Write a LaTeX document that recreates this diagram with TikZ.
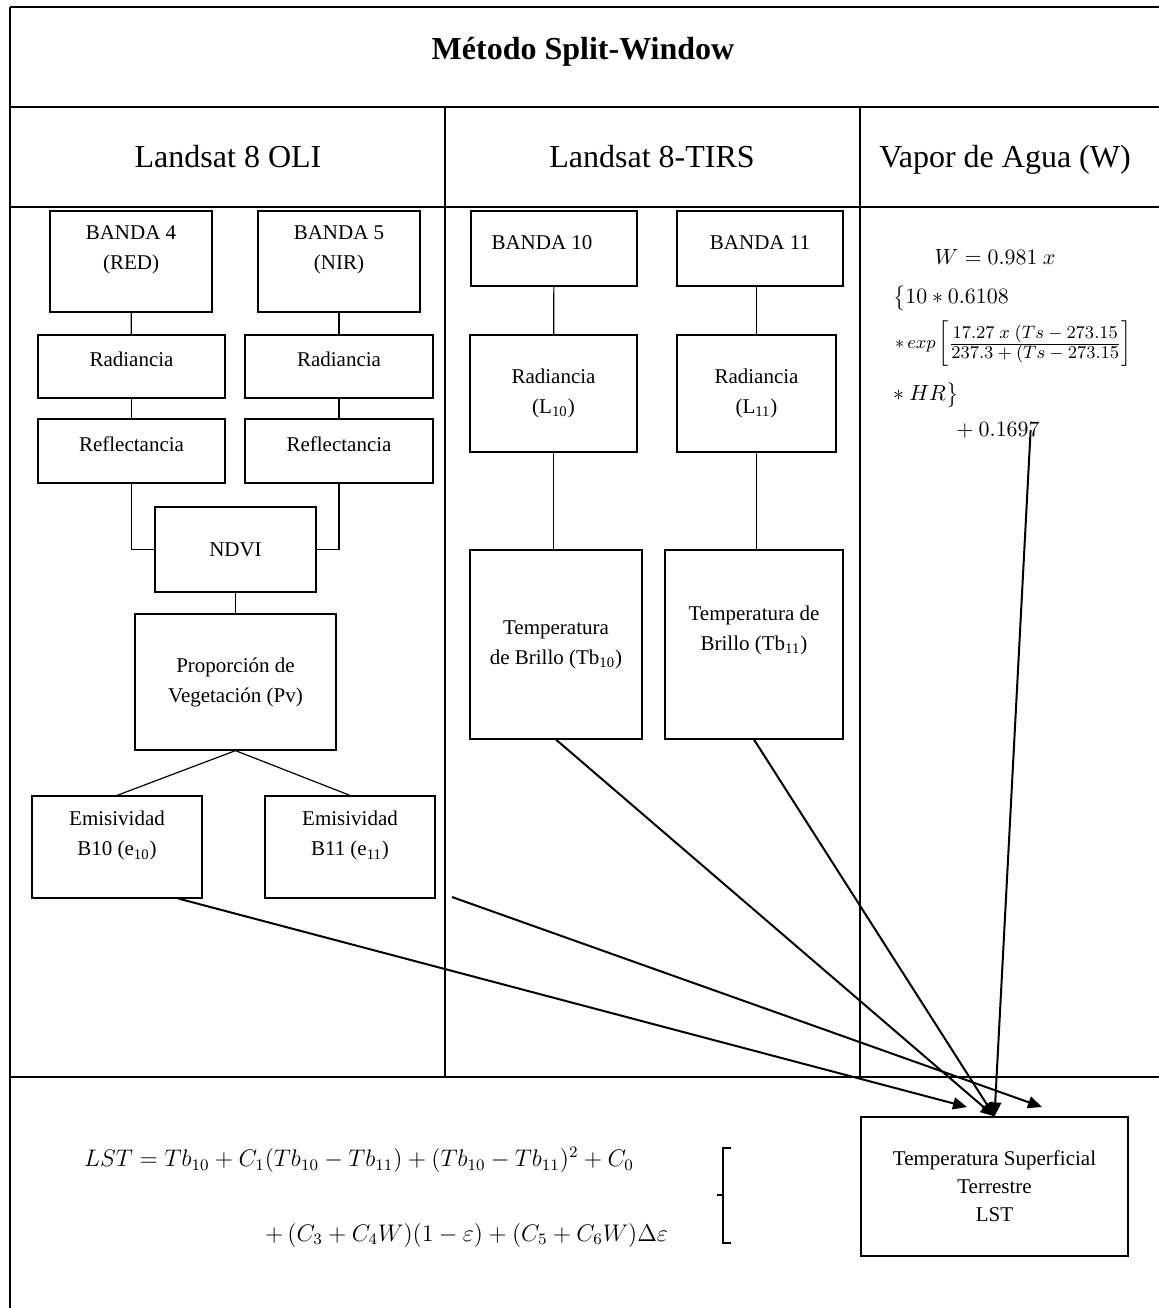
\documentclass[tikz,border=0pt]{standalone}
\usepackage{amsmath,amssymb}
\usepackage{fontspec}
\setmainfont{Liberation Serif}
\usepackage{tikz}
\usetikzlibrary{arrows.meta}
\newcommand{\boxfont}{\fontsize{10.5}{15}\selectfont}
\newcommand{\headfont}{\fontsize{16}{19}\selectfont}
\newcommand{\titlefont}{\fontsize{16}{19}\selectfont\bfseries}
\newcommand{\eqfont}{\fontsize{11.5}{14}\selectfont}
\tikzset{
  tabline/.style={line width=1pt},
  box/.style={draw, line width=0.6pt, inner sep=2pt, align=center, font=\boxfont},
  liftext/.style={text depth=#1},
  link/.style={line width=0.6pt},
  feed/.style={line width=1pt, -{Triangle[length=7pt,width=6pt]}},
}

\begin{document}
\begin{tikzpicture}[x=0.5pt, y=-0.5pt]
    \useasboundingbox (0,0) rectangle (1159,1308);
    % table
    \foreach \y in {7,107,207,1077} { \draw[tabline] (10,\y) -- (1159,\y); }
    \draw[tabline] (10,7) -- (10,1308);
    \draw[tabline] (445,107) -- (445,1077);
    \draw[tabline] (860,107) -- (860,1077);
    \node[font=\titlefont, anchor=base] (title) at (583,59) {Método Split-Window};
    \node[font=\headfont, anchor=base] (oli) at (228,167) {Landsat 8 OLI};
    \node[font=\headfont, anchor=base] (tirs) at (652,167) {Landsat 8-TIRS};
    \node[font=\headfont, anchor=base] (vapor) at (1005,167) {Vapor de Agua (W)};

    % Landsat 8 OLI
    \node[box, minimum width=81pt, minimum height=50.5pt] (b4) at (131,261.5) {BANDA 4\\(RED)\\[-6pt]\strut};
    \node[box, minimum width=81pt, minimum height=50.5pt] (b5) at (339,261.5) {BANDA 5\\(NIR)\\[-6pt]\strut};
    \node[box, liftext=7pt, minimum width=93.5pt, minimum height=31.5pt] (rad4) at (131.5,366.5) {Radiancia};
    \node[box, liftext=7pt, minimum width=94pt, minimum height=31.5pt] (rad5) at (339,366.5) {Radiancia};
    \node[box, liftext=7pt, minimum width=93.5pt, minimum height=32pt] (ref4) at (131.5,451) {Reflectancia};
    \node[box, liftext=7pt, minimum width=94pt, minimum height=32pt] (ref5) at (339,451) {Reflectancia};
    \node[box, minimum width=80.5pt, minimum height=42.5pt] (ndvi) at (235.5,549.5) {NDVI};
    \node[box, minimum width=100.5pt, minimum height=68pt] (pv) at (235.5,682) {Proporción de\\Vegetación (Pv)};
    \node[box, minimum width=85pt, minimum height=51pt] (e10) at (117,847) {Emisividad\\B10 (e\textsubscript{10})\\[-6pt]\strut};
    \node[box, minimum width=85pt, minimum height=51pt] (e11) at (350,847) {Emisividad\\B11 (e\textsubscript{11})\\[-6pt]\strut};
    \draw[link] (b4) -- (rad4);
    \draw[link] (b5) -- (rad5);
    \draw[link] (rad4) -- (ref4);
    \draw[link] (rad5) -- (ref5);
    \draw[link] (ref4.south) |- (ndvi.west);
    \draw[link] (ref5.south) |- (ndvi.east);
    \draw[link] (ndvi) -- (pv);
    \draw[link] (pv.south) -- (e10.north);
    \draw[link] (pv.south) -- (e11.north);

    % Landsat 8-TIRS
    \node[box, liftext=6pt, minimum width=83pt, minimum height=37.5pt] (b10) at (554,248.5) {BANDA 10\hspace*{12pt}};
    \node[box, liftext=6pt, minimum width=83pt, minimum height=37.5pt] (b11) at (760,248.5) {BANDA 11};
    \node[box, minimum width=83.5pt, minimum height=58.5pt] (rad10) at (553.5,393.5) {Radiancia\\(L\textsubscript{10})};
    \node[box, minimum width=79.5pt, minimum height=58.5pt] (rad11) at (756.5,393.5) {Radiancia\\(L\textsubscript{11})};
    \node[box, minimum width=86pt, minimum height=94.5pt] (tb10) at (556,644.5) {Temperatura\\de Brillo (Tb\textsubscript{10})};
    \node[box, minimum width=89pt, minimum height=94.5pt] (tb11) at (754,644.5) {Temperatura de\\Brillo (Tb\textsubscript{11})\\[-3pt]\strut};
    \draw[link] (b10) -- (rad10);
    \draw[link] (rad11.north |- b11.south) -- (rad11.north);
    \draw[link] (rad10.south) -- (rad10.south |- tb10.north);
    \draw[link] (rad11.south) -- (rad11.south |- tb11.north);

    % Vapor de agua
    \node[font=\boxfont] (w1) at (995,257) {$W = 0.981\ x$};
    \node[font=\boxfont, anchor=west] (w2) at (886,298) {$\big\{10 * 0.6108$};
    \node[font=\fontsize{9.5}{11}\selectfont, anchor=west] (w3) at (888,344)
        {$*\,exp\left[\textstyle\frac{\displaystyle 17.27\ x\ (Ts-273.15}{\displaystyle 237.3+(Ts-273.15}\right]$};
    \node[font=\boxfont, anchor=west] (w4) at (886,395) {$*\ HR\big\}$};
    \node[font=\boxfont] (w5) at (998,430) {$+\ 0.1697$};

    % LST
    \node[box, minimum width=133.5pt, minimum height=69.5pt, font=\fontsize{10.5}{14}\selectfont] (lst) at (994.5,1186.5) {Temperatura Superficial\\Terrestre\\LST};
    \node[font=\eqfont, anchor=west] (lst1) at (77,1160) {$LST = Tb_{10} + C_1(Tb_{10} - Tb_{11}) + (Tb_{10} - Tb_{11})^2 + C_0$};
    \node[font=\eqfont, anchor=east] (lst2) at (675,1235) {$+\,(C_3 + C_4W)(1 - \varepsilon) + (C_5 + C_6W)\Delta\varepsilon$};
    \draw[line width=1pt] (731,1148) -- (723,1148) -- (723,1243) -- (731,1243);
    \draw[line width=1pt] (723,1195) -- (717,1195);

    % arrows to LST
    \coordinate (e11tail) at (452,897);
    \coordinate (tipa) at (967,1107);
    \coordinate (tipb) at (1042,1107);
    \draw[feed] (e10.-40) -- (tipa);
    \draw[feed] (e11tail) -- (tipb);
    \draw[feed] (tb10.south) -- (lst.north);
    \draw[feed] (tb11.south) -- (lst.north);
    \draw[feed] ([xshift=-8pt]w5.east) -- (lst.north);
\end{tikzpicture}
\end{document}
